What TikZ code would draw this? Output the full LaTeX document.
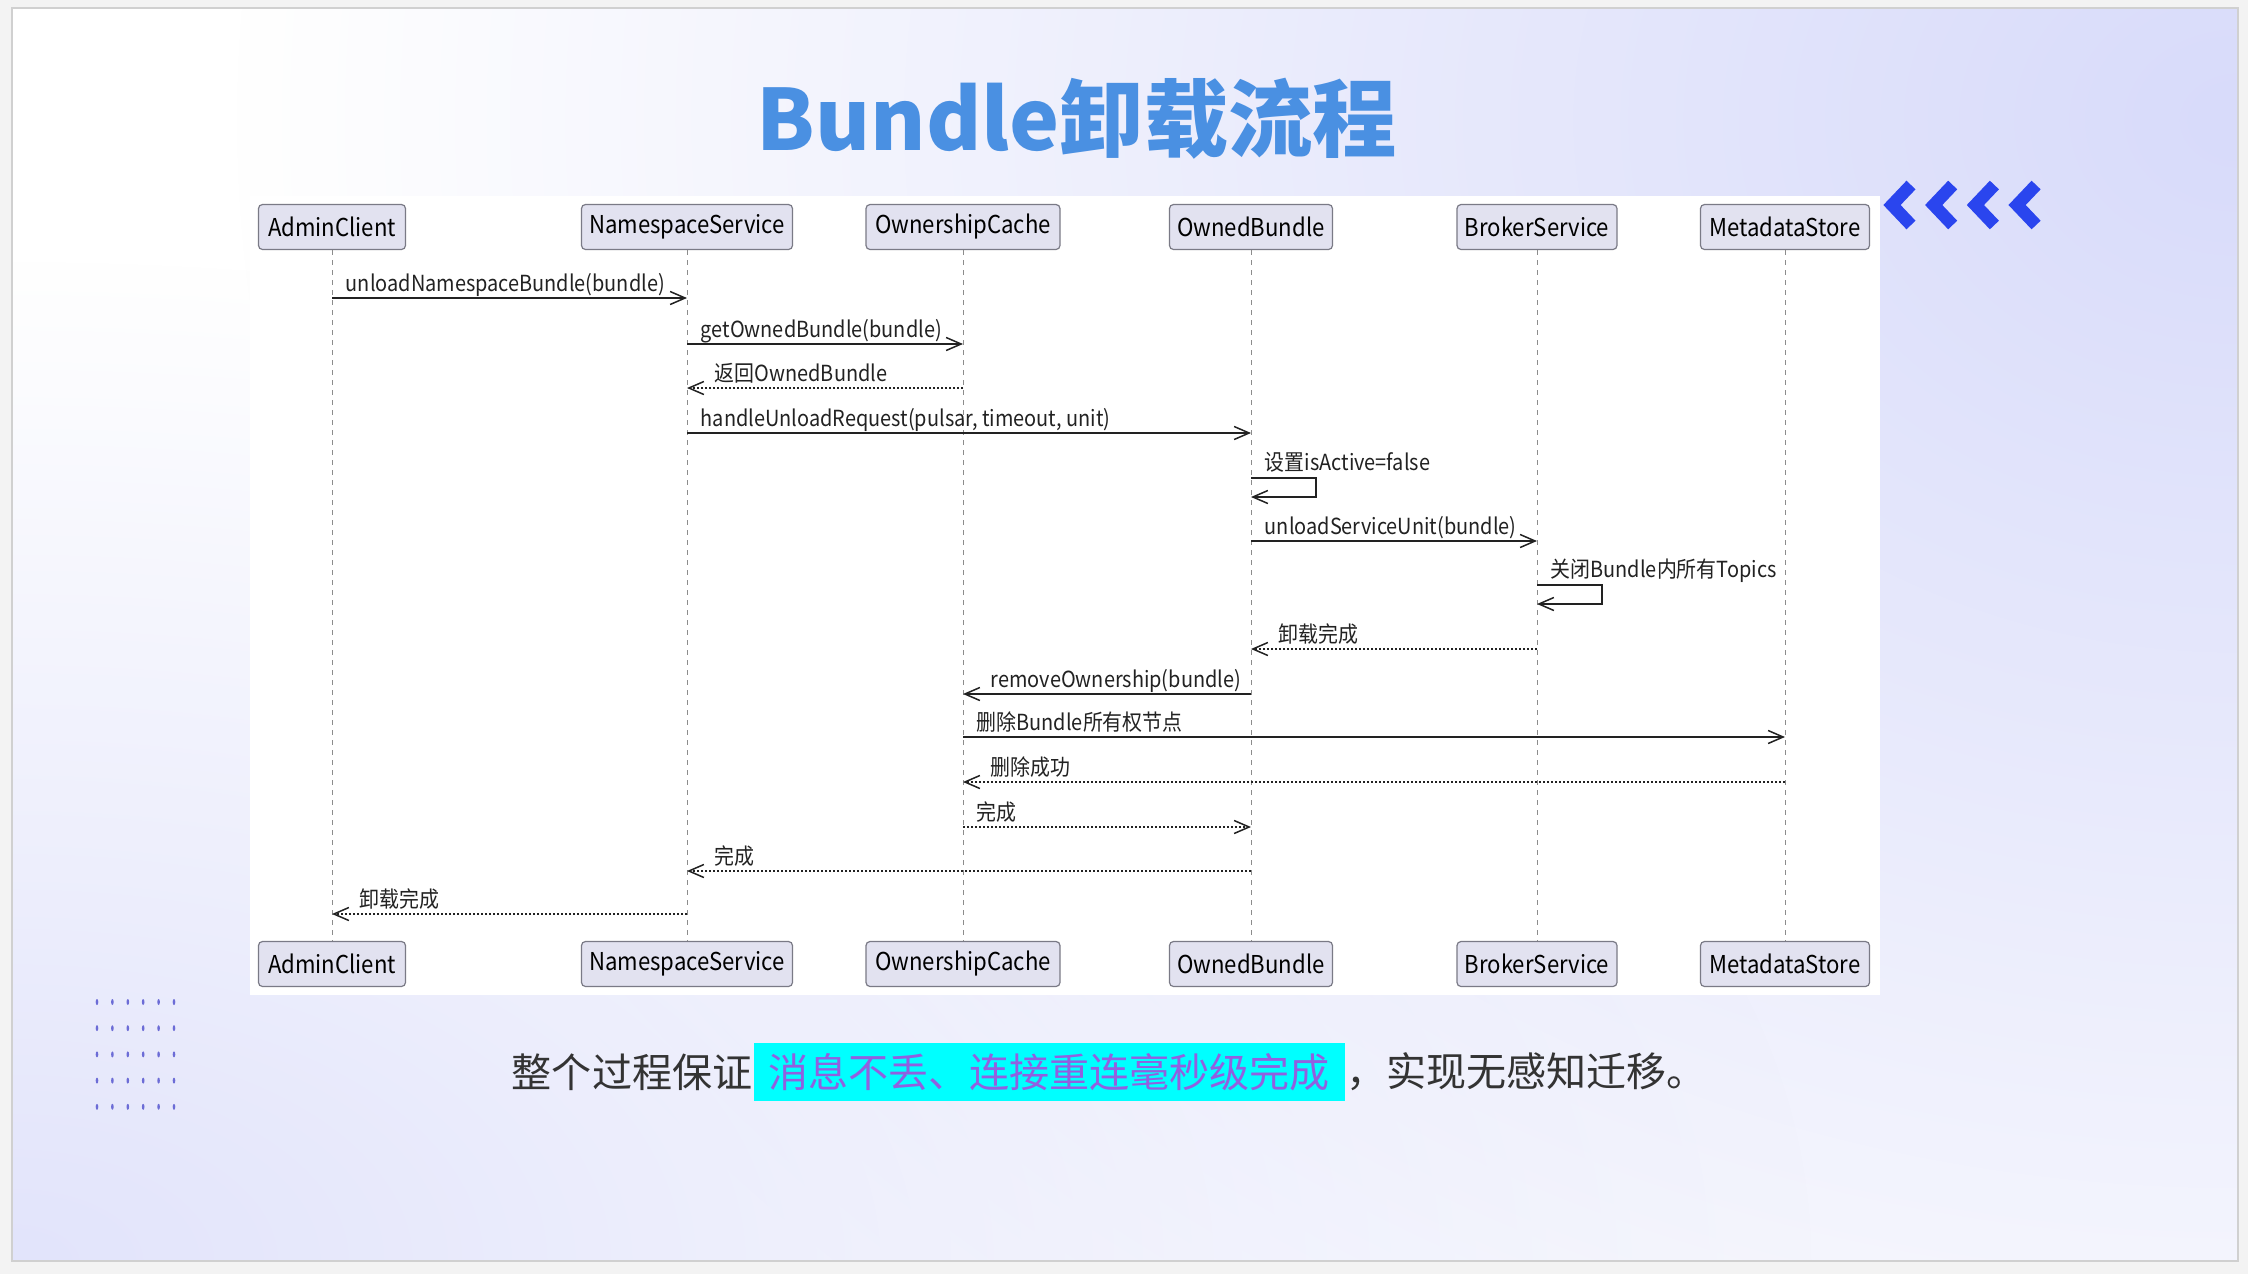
\documentclass[tikz,border=0pt]{standalone}
\usepackage{fontspec}
\setmainfont{Noto Sans CJK SC}
\newfontfamily\umlfont{Noto Sans CJK SC}[FakeStretch=0.9]
\usetikzlibrary{arrows.meta, positioning, fadings}

\definecolor{titleblue}{HTML}{4A90E2}
\definecolor{actorfill}{HTML}{E2E2F0}
\definecolor{actorline}{HTML}{7A7A86}
\definecolor{msgline}{HTML}{222222}
\definecolor{lifegray}{HTML}{8C8C8C}
\definecolor{lavender}{HTML}{D8DBFA}
\definecolor{chevblue}{HTML}{2A45EE}
\definecolor{dotblue}{HTML}{6C6CD6}
\definecolor{bodytext}{HTML}{333333}
\definecolor{hlcyan}{HTML}{00FFFF}
\definecolor{hlpurple}{HTML}{9160E0}
\definecolor{framegray}{HTML}{D0D0D0}
\definecolor{outergray}{HTML}{F3F3F3}

\tikzfading[name=blob, inner color=transparent!0, outer color=transparent!100]

\begin{document}
\begin{tikzpicture}[
    x=0.1mm, y=-0.1mm,
    >={Straight Barb[length=1.5mm, width=1.3mm]},
    title/.style ={text=titleblue, inner sep=0pt,
                   font=\bfseries\fontsize{24pt}{29pt}\selectfont},
    actor/.style ={draw=actorline, fill=actorfill, rounded corners=0.4mm,
                   line width=0.12mm, minimum height=4.5mm, inner sep=0pt,
                   font=\umlfont\fontsize{7pt}{8pt}\selectfont},
    life/.style  ={lifegray, line width=0.1mm, dash pattern=on 0.5mm off 0.5mm},
    call/.style  ={->, msgline, line width=0.15mm},
    ret/.style   ={call, dash pattern=on 0.2mm off 0.2mm},
    lbl/.style   ={anchor=base west, inner sep=0pt, text=msgline,
                   font=\umlfont\fontsize{6.3pt}{7pt}\selectfont},
    body/.style  ={inner sep=0pt, text=bodytext,
                   font=\fontsize{11.4pt}{13pt}\selectfont},
    hl/.style    ={body, fill=hlcyan, text=hlpurple, inner xsep=1.5mm,
                   minimum height=5.8mm},
    chev/.style  ={chevblue, line width=1.25mm, line join=miter},
]
% slide card and soft background
\fill[outergray] (0,0) rectangle (2248,1274);
\fill[white] (12,8) rectangle (2238,1261);
\begin{scope}
  \clip (12,8) rectangle (2238,1261);
  \fill[lavender, path fading=blob] (2238,120) ellipse (2000 and 1600);
  \fill[lavender!75, path fading=blob] (12,1261) ellipse (1800 and 1000);
\end{scope}
\draw[framegray, line width=0.15mm] (12,8) rectangle (2238,1261);

\node[title, anchor=base] (title) at (1077,150) {Bundle卸载流程};

\foreach \k in {0,...,3}
  \draw[chev] ({1911+41.7*\k},185) -- ({1892+41.7*\k},205) -- ({1911+41.7*\k},225);

\foreach \c in {0,...,5}
  \foreach \r in {0,...,4}
    \fill[dotblue] ({97+15.4*\c},{1002+26.2*\r}) ellipse (1.3 and 3);

% sequence diagram
\fill[white] (250,196) rectangle (1880,995);
\foreach \id/\px/\w/\name in {adm/332/147/AdminClient, ns/687/211/NamespaceService,
    oc/963/194/OwnershipCache, ob/1251/163/OwnedBundle,
    bs/1537/160/BrokerService, ms/1785/169/MetadataStore}{
  \node[actor, minimum width=\w*0.1mm] (\id-t) at (\px,227) {\name};
  \node[actor, minimum width=\w*0.1mm] (\id-b) at (\px,964) {\name};
  \draw[life] (\id-t) -- (\id-b);
}

\draw[call] (adm-t |- 0,298) -- node[lbl, at start, xshift=1.3mm, yshift=0.65mm]
            {unloadNamespaceBundle(bundle)} (ns-t |- 0,298);
\draw[call] (ns-t |- 0,344) -- node[lbl, at start, xshift=1.3mm, yshift=0.65mm]
            {getOwnedBundle(bundle)} (oc-t |- 0,344);
\draw[ret]  (oc-t |- 0,388) -- node[lbl, at end, xshift=2.7mm, yshift=0.65mm]
            {返回OwnedBundle} (ns-t |- 0,388);
\draw[call] (ns-t |- 0,433) -- node[lbl, at start, xshift=1.3mm, yshift=0.65mm]
            {handleUnloadRequest(pulsar, timeout, unit)} (ob-t |- 0,433);
% self calls
\draw[call] (ob-t |- 0,478) node[lbl, xshift=1.3mm, yshift=0.75mm] {设置isActive=false}
            -- ++(65,0) |- (ob-t |- 0,497);
\draw[call] (ob-t |- 0,541) -- node[lbl, at start, xshift=1.3mm, yshift=0.65mm]
            {unloadServiceUnit(bundle)} (bs-t |- 0,541);
\draw[call] (bs-t |- 0,585) node[lbl, xshift=1.3mm, yshift=0.75mm] {关闭Bundle内所有Topics}
            -- ++(65,0) |- (bs-t |- 0,604);
\draw[ret]  (bs-t |- 0,649) -- node[lbl, at end, xshift=2.7mm, yshift=0.65mm]
            {卸载完成} (ob-t |- 0,649);
\draw[call] (ob-t |- 0,694) -- node[lbl, at end, xshift=2.7mm, yshift=0.65mm]
            {removeOwnership(bundle)} (oc-t |- 0,694);
\draw[call] (oc-t |- 0,737) -- node[lbl, at start, xshift=1.3mm, yshift=0.65mm]
            {删除Bundle所有权节点} (ms-t |- 0,737);
\draw[ret]  (ms-t |- 0,782) -- node[lbl, at end, xshift=2.7mm, yshift=0.65mm]
            {删除成功} (oc-t |- 0,782);
\draw[ret]  (oc-t |- 0,827) -- node[lbl, at start, xshift=1.3mm, yshift=0.65mm]
            {完成} (ob-t |- 0,827);
\draw[ret]  (ob-t |- 0,871) -- node[lbl, at end, xshift=2.7mm, yshift=0.65mm]
            {完成} (ns-t |- 0,871);
\draw[ret]  (ns-t |- 0,914) -- node[lbl, at end, xshift=2.7mm, yshift=0.65mm]
            {卸载完成} (adm-t |- 0,914);

% summary line
\node[body, anchor=east] (lead) at (753,1072) {整个过程保证};
\node[hl, right=0pt of lead] (key) {消息不丢、连接重连毫秒级完成};
\node[body, right=0pt of key] (tail) {，实现无感知迁移。};
\end{tikzpicture}
\end{document}
